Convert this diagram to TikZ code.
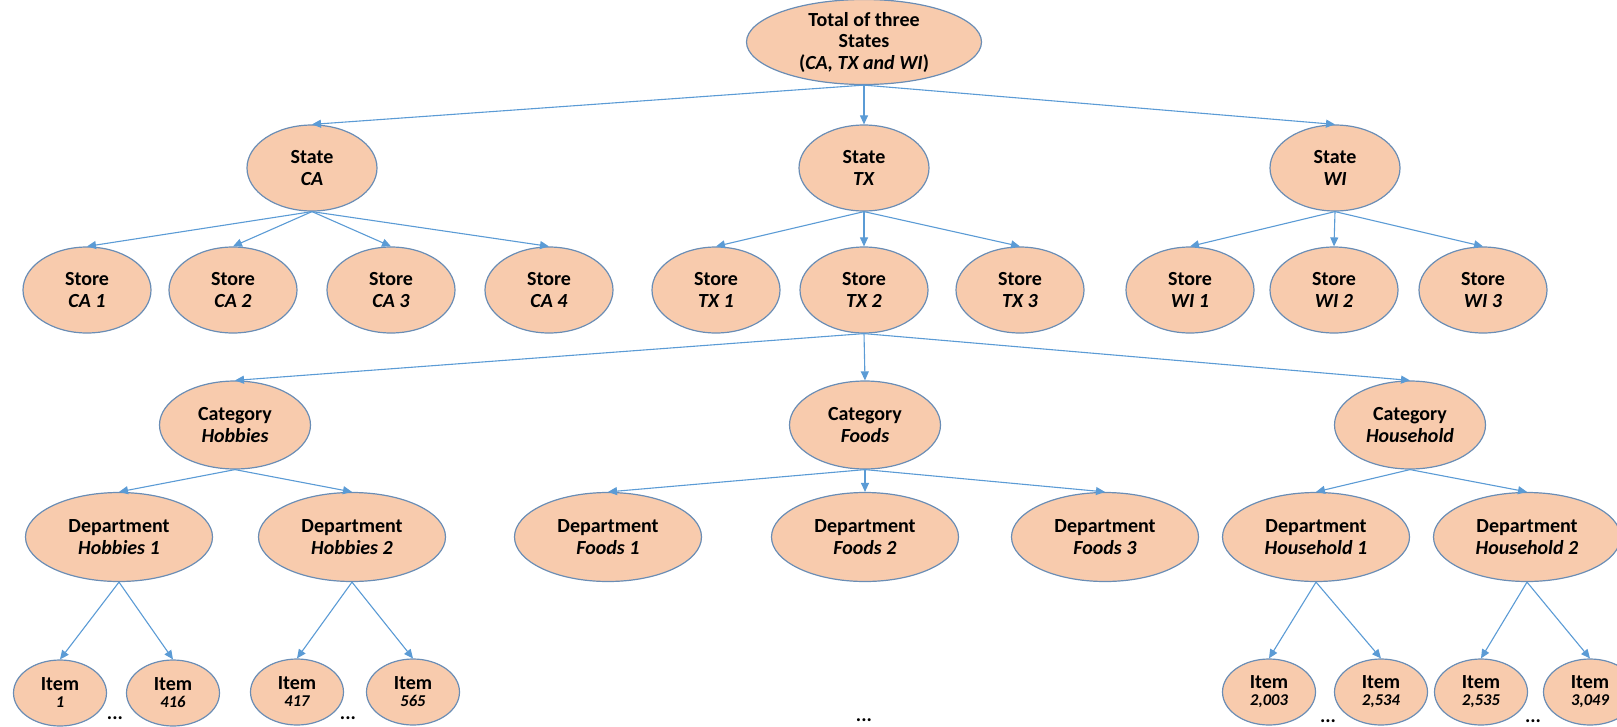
\documentclass[tikz,border=0pt]{standalone}
\usepackage{fontspec}
\setmainfont{Carlito}
\usetikzlibrary{shapes.geometric,arrows.meta}

\definecolor{boxfill}{HTML}{F8CBAD}
\definecolor{boxline}{HTML}{6A8DB5}
\definecolor{linkblue}{HTML}{5B9BD5}

\tikzset{
  oval/.style={ellipse, draw=boxline, line width=1.2pt, fill=boxfill,
    inner sep=0pt, align=center, font=\fontsize{20}{21.5}\selectfont\bfseries},
  totalnode/.style={oval, minimum width=235pt, minimum height=85pt},
  statenode/.style={oval, minimum width=130pt, minimum height=86pt},
  storenode/.style={oval, minimum width=128pt, minimum height=86pt},
  catnode/.style={oval, minimum width=151pt, minimum height=88pt},
  deptnode/.style={oval, minimum width=187pt, minimum height=89pt},
  itemnode/.style={oval, minimum width=93pt, minimum height=66pt,
    font=\fontsize{20}{17}\selectfont\bfseries},
  link/.style={draw=linkblue, line width=1.1pt, -{Triangle[length=9pt,width=8pt]}},
  more/.style={font=\fontsize{20}{21}\selectfont\bfseries, inner sep=0pt}
}

\begin{document}
\begin{tikzpicture}[x=1pt,y=-1pt]
    \useasboundingbox (0,0) rectangle (1617,726);

    \node[totalnode] (tot) at (864,42) {Total of three\\States\\(\textit{CA, TX and WI})};

    \node[statenode] (ca) at (312,168) {State\\\textit{CA}};
    \node[statenode] (tx) at (864,168) {State\\\textit{TX}};
    \node[statenode] (wi) at (1335,168) {State\\\textit{WI}};

    \node[storenode] (ca1) at (87,290) {Store\\\textit{CA 1}};
    \node[storenode] (ca2) at (233,290) {Store\\\textit{CA 2}};
    \node[storenode] (ca3) at (391,290) {Store\\\textit{CA 3}};
    \node[storenode] (ca4) at (549,290) {Store\\\textit{CA 4}};
    \node[storenode] (tx1) at (716,290) {Store\\\textit{TX 1}};
    \node[storenode] (tx2) at (864,290) {Store\\\textit{TX 2}};
    \node[storenode] (tx3) at (1020,290) {Store\\\textit{TX 3}};
    \node[storenode] (wi1) at (1190,290) {Store\\\textit{WI 1}};
    \node[storenode] (wi2) at (1334,290) {Store\\\textit{WI 2}};
    \node[storenode] (wi3) at (1483,290) {Store\\\textit{WI 3}};

    \node[catnode] (hob) at (235,425) {Category\\\textit{Hobbies}};
    \node[catnode] (foo) at (865,425) {Category\\\textit{Foods}};
    \node[catnode] (hou) at (1410,425) {Category\\\textit{Household}};

    \node[deptnode] (hob1) at (119,537) {Department\\\textit{Hobbies 1}};
    \node[deptnode] (hob2) at (352,537) {Department\\\textit{Hobbies 2}};
    \node[deptnode] (foo1) at (608,537) {Department\\\textit{Foods 1}};
    \node[deptnode] (foo2) at (865,537) {Department\\\textit{Foods 2}};
    \node[deptnode] (foo3) at (1105,537) {Department\\\textit{Foods 3}};
    \node[deptnode] (hou1) at (1316,537) {Department\\\textit{Household 1}};
    \node[deptnode] (hou2) at (1527,537) {Department\\\textit{Household 2}};

    \node[itemnode] (it1) at (60,693) {Item\\{\fontsize{16.5}{17}\selectfont\itshape 1}};
    \node[itemnode] (it416) at (173,693) {Item\\{\fontsize{16.5}{17}\selectfont\itshape 416}};
    \node[itemnode] (it417) at (297,692) {Item\\{\fontsize{16.5}{17}\selectfont\itshape 417}};
    \node[itemnode] (it565) at (413,692) {Item\\{\fontsize{16.5}{17}\selectfont\itshape 565}};
    \node[itemnode] (it2003) at (1269,692) {Item\\{\fontsize{16.5}{17}\selectfont\itshape 2,003}};
    \node[itemnode] (it2534) at (1381,692) {Item\\{\fontsize{16.5}{17}\selectfont\itshape 2,534}};
    \node[itemnode] (it2535) at (1481,692) {Item\\{\fontsize{16.5}{17}\selectfont\itshape 2,535}};
    \node[itemnode] (it3049) at (1590,692) {Item\\{\fontsize{16.5}{17}\selectfont\itshape 3,049}};

    \node[more] (dots1) at (115,718) {...};
    \node[more] (dots2) at (348,718) {...};
    \node[more] (dots3) at (864,720) {...};
    \node[more] (dots4) at (1328,721) {...};
    \node[more] (dots5) at (1533,721) {...};

    \draw[link] (tot.south) -- (ca.north);
    \draw[link] (tot.south) -- (tx.north);
    \draw[link] (tot.south) -- (wi.north);

    \draw[link] (ca.south) -- (ca1.north);
    \draw[link] (ca.south) -- (ca2.north);
    \draw[link] (ca.south) -- (ca3.north);
    \draw[link] (ca.south) -- (ca4.north);
    \draw[link] (tx.south) -- (tx1.north);
    \draw[link] (tx.south) -- (tx2.north);
    \draw[link] (tx.south) -- (tx3.north);
    \draw[link] (wi.south) -- (wi1.north);
    \draw[link] (wi.south) -- (wi2.north);
    \draw[link] (wi.south) -- (wi3.north);

    \draw[link] (tx2.south) -- (hob.north);
    \draw[link] (tx2.south) -- (foo.north);
    \draw[link] (tx2.south) -- (hou.north);

    \draw[link] (hob.south) -- (hob1.north);
    \draw[link] (hob.south) -- (hob2.north);
    \draw[link] (foo.south) -- (foo1.north);
    \draw[link] (foo.south) -- (foo2.north);
    \draw[link] (foo.south) -- (foo3.north);
    \draw[link] (hou.south) -- (hou1.north);
    \draw[link] (hou.south) -- (hou2.north);

    \draw[link] (hob1.south) -- (it1.north);
    \draw[link] (hob1.south) -- (it416.north);
    \draw[link] (hob2.south) -- (it417.north);
    \draw[link] (hob2.south) -- (it565.north);
    \draw[link] (hou1.south) -- (it2003.north);
    \draw[link] (hou1.south) -- (it2534.north);
    \draw[link] (hou2.south) -- (it2535.north);
    \draw[link] (hou2.south) -- (it3049.north);
  \end{tikzpicture}
\end{document}
